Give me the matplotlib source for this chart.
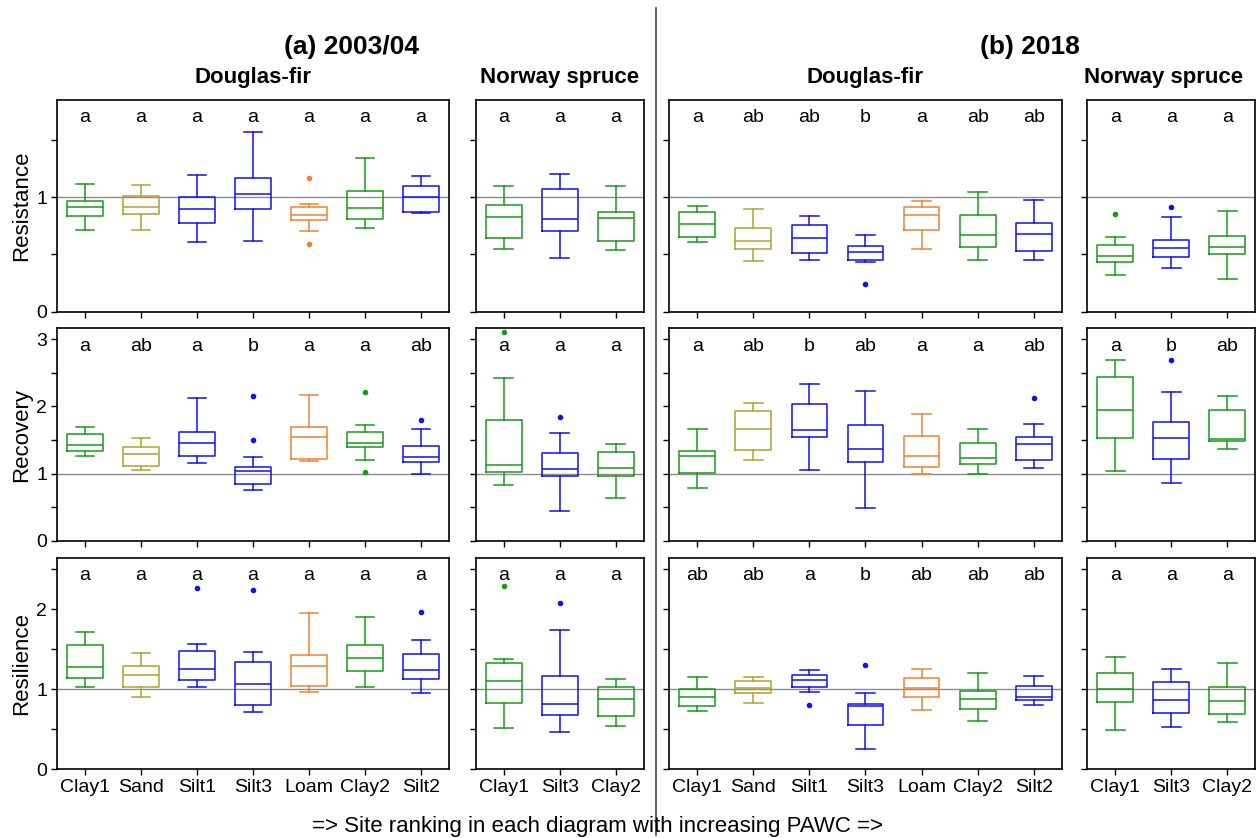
import matplotlib
matplotlib.use("Agg")
import matplotlib.pyplot as plt
import numpy as np

plt.rcParams['font.family'] = ['Liberation Sans', 'DejaVu Sans']

# ---------------- data ----------------
sites_df = ["Clay1", "Sand", "Silt1", "Silt3", "Loam", "Clay2", "Silt2"]
sites_ns = ["Clay1", "Silt3", "Clay2"]

site_colors = {"Clay1": "#179a17", "Clay2": "#179a17", "Sand": "#b2a22e",
               "Silt1": "#1010f5", "Silt2": "#1010f5", "Silt3": "#1010f5",
               "Loam": "#f08232"}

# five-number summaries: [whisker low, Q1, median, Q3, whisker high]
# Resistance
resist_df_2003 = [[0.717, 0.837, 0.918, 0.971, 1.120],
                  [0.711, 0.851, 0.913, 1.015, 1.108],
                  [0.606, 0.773, 0.898, 1.006, 1.192],
                  [0.618, 0.895, 1.026, 1.172, 1.569],
                  [0.706, 0.799, 0.843, 0.918, 0.945],
                  [0.735, 0.810, 0.910, 1.052, 1.347],
                  [0.860, 0.875, 1.000, 1.096, 1.184]]
resist_df_2003_out = [[], [], [], [], [1.166, 0.595], [], []]
resist_df_2003_lbl = ["a", "a", "a", "a", "a", "a", "a"]

resist_ns_2003 = [[0.545, 0.641, 0.825, 0.933, 1.102],
                  [0.466, 0.703, 0.808, 1.076, 1.207],
                  [0.536, 0.618, 0.819, 0.869, 1.102]]
resist_ns_2003_out = [[], [], []]
resist_ns_2003_lbl = ["a", "a", "a"]

resist_df_2018 = [[0.609, 0.650, 0.764, 0.875, 0.924],
                  [0.440, 0.551, 0.615, 0.729, 0.898],
                  [0.455, 0.516, 0.647, 0.761, 0.837],
                  [0.431, 0.449, 0.519, 0.577, 0.673],
                  [0.548, 0.717, 0.843, 0.918, 0.968],
                  [0.455, 0.563, 0.673, 0.848, 1.047],
                  [0.449, 0.528, 0.676, 0.778, 0.974]]
resist_df_2018_out = [[], [], [], [0.242], [], [], []]
resist_df_2018_lbl = ["a", "ab", "ab", "b", "a", "ab", "ab"]

resist_ns_2018 = [[0.324, 0.437, 0.490, 0.580, 0.653],
                  [0.385, 0.478, 0.560, 0.624, 0.828],
                  [0.289, 0.507, 0.566, 0.662, 0.883]]
resist_ns_2018_out = [[0.854], [0.918], []]
resist_ns_2018_lbl = ["a", "a", "a"]

# Recovery
recov_df_2003 = [[1.257, 1.336, 1.426, 1.585, 1.689],
                 [1.058, 1.108, 1.292, 1.391, 1.535],
                 [1.157, 1.262, 1.456, 1.619, 2.131],
                 [0.755, 0.849, 1.033, 1.098, 1.247],
                 [1.192, 1.217, 1.540, 1.694, 2.166],
                 [1.197, 1.391, 1.451, 1.624, 1.719],
                 [0.994, 1.172, 1.247, 1.411, 1.664]]
recov_df_2003_out = [[], [], [], [2.161, 1.495], [], [2.216, 1.028], [1.793]]
recov_df_2003_lbl = ["a", "ab", "a", "b", "a", "a", "ab"]

recov_ns_2003 = [[0.831, 1.030, 1.129, 1.798, 2.428],
                 [0.449, 0.970, 1.075, 1.313, 1.610],
                 [0.642, 0.970, 1.089, 1.328, 1.441]]
recov_ns_2003_out = [[3.107], [1.843], []]
recov_ns_2003_lbl = ["a", "a", "a"]

recov_df_2018 = [[0.790, 1.013, 1.262, 1.331, 1.664],
                 [1.197, 1.346, 1.659, 1.937, 2.052],
                 [1.053, 1.545, 1.649, 2.032, 2.340],
                 [0.482, 1.167, 1.361, 1.719, 2.235],
                 [0.990, 1.098, 1.262, 1.555, 1.883],
                 [0.994, 1.138, 1.237, 1.451, 1.669],
                 [1.088, 1.197, 1.441, 1.540, 1.744]]
recov_df_2018_out = [[], [], [], [], [], [], [2.121]]
recov_df_2018_lbl = ["a", "ab", "b", "ab", "a", "a", "ab"]

recov_ns_2018 = [[1.040, 1.535, 1.942, 2.433, 2.696],
                 [0.866, 1.214, 1.535, 1.768, 2.215],
                 [1.362, 1.481, 1.516, 1.942, 2.150]]
recov_ns_2018_out = [[], [2.696], []]
recov_ns_2018_lbl = ["a", "b", "ab"]

# Resilience
resil_df_2003 = [[1.023, 1.144, 1.273, 1.553, 1.712],
                 [0.906, 1.023, 1.177, 1.286, 1.457],
                 [1.027, 1.119, 1.257, 1.474, 1.566],
                 [0.718, 0.806, 1.065, 1.336, 1.461],
                 [0.965, 1.040, 1.290, 1.432, 1.954],
                 [1.035, 1.232, 1.386, 1.557, 1.904],
                 [0.952, 1.123, 1.236, 1.441, 1.612]]
resil_df_2003_out = [[], [], [2.267], [2.238], [], [], [1.971]]
resil_df_2003_lbl = ["a", "a", "a", "a", "a", "a", "a"]

resil_ns_2003 = [[0.522, 0.823, 1.098, 1.332, 1.374],
                 [0.472, 0.676, 0.818, 1.169, 1.737],
                 [0.543, 0.668, 0.885, 1.035, 1.123]]
resil_ns_2003_out = [[2.292], [2.079], []]
resil_ns_2003_lbl = ["a", "a", "a"]

resil_df_2018 = [[0.731, 0.793, 0.910, 0.998, 1.148],
                 [0.835, 0.960, 1.015, 1.106, 1.148],
                 [0.965, 1.035, 1.119, 1.177, 1.240],
                 [0.259, 0.551, 0.789, 0.814, 0.956],
                 [0.743, 0.902, 1.015, 1.140, 1.248],
                 [0.601, 0.752, 0.873, 0.985, 1.198],
                 [0.802, 0.864, 0.902, 1.040, 1.165]]
resil_df_2018_out = [[], [], [0.802], [1.307], [], [], []]
resil_df_2018_lbl = ["ab", "ab", "a", "b", "ab", "ab", "ab"]

resil_ns_2018 = [[0.493, 0.843, 1.002, 1.198, 1.403],
                 [0.534, 0.710, 0.864, 1.094, 1.257],
                 [0.597, 0.693, 0.852, 1.027, 1.324]]
resil_ns_2018_out = [[], [], []]
resil_ns_2018_lbl = ["a", "a", "a"]

row_names = ["Resistance", "Recovery", "Resilience"]
row_ylim = [1.85, 3.165, 2.645]
row_ticks_top = [1.5, 3.0, 2.5]

# ---------------- layout ----------------
W, H = 1260, 838
fig = plt.figure(figsize=(W / 100, H / 100), dpi=100)

col_px = [(57, 449), (475.7, 643.7), (669.3, 1061.7), (1087.3, 1255.3)]
row_px = [(100, 311.7), (328.3, 540.7), (557.7, 769.3)]

panels = [
    [(resist_df_2003, resist_df_2003_out, resist_df_2003_lbl, sites_df),
     (resist_ns_2003, resist_ns_2003_out, resist_ns_2003_lbl, sites_ns),
     (resist_df_2018, resist_df_2018_out, resist_df_2018_lbl, sites_df),
     (resist_ns_2018, resist_ns_2018_out, resist_ns_2018_lbl, sites_ns)],
    [(recov_df_2003, recov_df_2003_out, recov_df_2003_lbl, sites_df),
     (recov_ns_2003, recov_ns_2003_out, recov_ns_2003_lbl, sites_ns),
     (recov_df_2018, recov_df_2018_out, recov_df_2018_lbl, sites_df),
     (recov_ns_2018, recov_ns_2018_out, recov_ns_2018_lbl, sites_ns)],
    [(resil_df_2003, resil_df_2003_out, resil_df_2003_lbl, sites_df),
     (resil_ns_2003, resil_ns_2003_out, resil_ns_2003_lbl, sites_ns),
     (resil_df_2018, resil_df_2018_out, resil_df_2018_lbl, sites_df),
     (resil_ns_2018, resil_ns_2018_out, resil_ns_2018_lbl, sites_ns)],
]

for r in range(3):
    y0, y1 = row_px[r]
    for c in range(4):
        x0, x1 = col_px[c]
        ax = fig.add_axes([x0 / W, 1 - y1 / H, (x1 - x0) / W, (y1 - y0) / H])
        summ, outs, lbls, sites = panels[r][c]
        stats = []
        for s, o in zip(summ, outs):
            stats.append(dict(whislo=s[0], q1=s[1], med=s[2], q3=s[3],
                              whishi=s[4], fliers=o))
        pos = np.arange(1, len(sites) + 1)
        ax.axhline(1.0, color="#8c8c8c", lw=1.0, zorder=1)
        bp = ax.bxp(stats, positions=pos, widths=0.64, capwidths=0.33,
                    showfliers=True, patch_artist=False, manage_ticks=False)
        for i, site in enumerate(sites):
            col = site_colors[site]
            bp['boxes'][i].set(color=col, lw=1.1)
            bp['medians'][i].set(color=col, lw=1.1)
            for k in (2 * i, 2 * i + 1):
                bp['whiskers'][k].set(color=col, lw=1.1)
                bp['caps'][k].set(color=col, lw=1.1)
            bp['fliers'][i].set(marker='o', markerfacecolor=col,
                                markeredgecolor=col, markersize=3.0,
                                linestyle='none')
            ax.text(pos[i], 0.915, lbls[i], transform=ax.get_xaxis_transform(),
                    ha='center', va='center', fontsize=14)
        ax.set_xlim(0.5, len(sites) + 0.5)
        ax.set_ylim(0, row_ylim[r])
        yt = np.arange(0, row_ticks_top[r] + 0.01, 0.5)
        ax.set_yticks(yt)
        if c == 0:
            ax.set_yticklabels([f"{v:g}" if v == int(v) else "" for v in yt])
        else:
            ax.set_yticklabels([])
        ax.set_xticks(pos)
        if r == 2:
            ax.set_xticklabels(sites)
        else:
            ax.set_xticklabels([])
        ax.tick_params(direction='out', length=4, width=1, labelsize=14,
                       colors='black', pad=3)
        for sp in ax.spines.values():
            sp.set_linewidth(1.2)
            sp.set_color('black')
    fig.text(22 / W, 1 - ((y0 + y1) / 2) / H, row_names[r], rotation=90,
             ha='center', va='center', fontsize=16)

# headers
fig.text(351 / W, 1 - 47 / H, "(a) 2003/04", ha='center', va='center',
         fontsize=19, fontweight='bold')
fig.text(1030 / W, 1 - 47 / H, "(b) 2018", ha='center', va='center',
         fontsize=19, fontweight='bold')
for xc, name in [(253, "Douglas-fir"), (560, "Norway spruce"),
                 (865, "Douglas-fir"), (1164, "Norway spruce")]:
    fig.text(xc / W, 1 - 78 / H, name, ha='center', va='center',
             fontsize=16, fontweight='bold')

fig.text(598 / W, 1 - 826 / H,
         "=> Site ranking in each diagram with increasing PAWC =>",
         ha='center', va='center', fontsize=16)

# vertical divider
fig.add_artist(plt.Line2D([656 / W, 656 / W], [1 - 8 / H, 1 - 835 / H],
                          transform=fig.transFigure, color='#444444', lw=1.2))

fig.savefig("out.png", dpi=100)
